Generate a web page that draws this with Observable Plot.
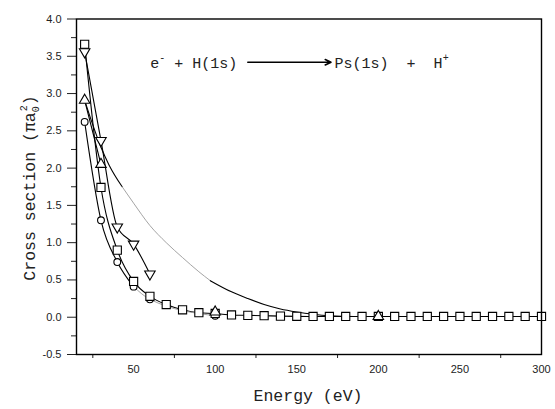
<!DOCTYPE html>
<html><head><meta charset="utf-8">
<script src="https://cdn.jsdelivr.net/npm/d3@7"></script>
<script src="https://cdn.jsdelivr.net/npm/@observablehq/plot@0.6"></script>
<style>html,body{margin:0;padding:0;background:#fff}svg{display:block}</style>
</head><body><div id="chart"></div>
<script>
// ---- data ----
const squareE = [20,30,40,50,60,70,80,90,100,110,120,130,140,150,160,170,180,190,200,210,220,230,240,250,260,270,280,290,300];
const squareS = [3.66,1.74,0.90,0.48,0.28,0.17,0.10,0.06,0.05,0.03,0.025,0.02,0.015,0.012,0.01,0.01,0.01,0.01,0.01,0.01,0.01,0.01,0.01,0.01,0.01,0.01,0.01,0.01,0.01];
const circleE = [20,30,40,50,60,100];
const circleS = [2.62,1.30,0.74,0.41,0.24,0.02];
const triUpE = [20,30,100,200];
const triUpS = [2.91,2.05,0.07,0.01];
const triDownE = [20,30,40,50,60];
const triDownS = [3.56,2.37,1.21,0.98,0.58];
const theoryE = [20,25,30,35,43,50,60,70,80,90,97,110,120,130,140,150,160,170,185,200];
const theoryS = [2.91,2.58,2.28,2.04,1.75,1.53,1.23,1.00,0.80,0.61,0.49,0.34,0.25,0.17,0.11,0.07,0.04,0.02,0.01,0.01];
const xTicks = [50,100,150,200,250,300];
const xMinor = [25,75,125,175,225,275];
const yTicks = [-0.5,0,0.5,1,1.5,2,2.5,3,3.5,4];
const yMinor = [-0.25,0.25,0.75,1.25,1.75,2.25,2.75,3.25,3.75];
const arrowFrom = [120, 3.42];
const arrowTo = [171, 3.42];
const leftText = {e: 60.5, s: 3.33};
const rightText = {e: 173.5, s: 3.33};

// ---- helpers ----
const rows = (E, S) => E.map((e, i) => ({e, s: S[i]}));
const slice = (E, S, a, b) => rows(E.slice(a, b + 1), S.slice(a, b + 1));
const mono = "'Courier New',Courier,'Nimbus Mono PS','FreeMono','Liberation Mono',monospace";
const triangleDown = {
  draw(ctx, size) {
    const y = Math.sqrt(size / (Math.sqrt(3) * 3));
    ctx.moveTo(0, 2 * y);
    ctx.lineTo(Math.sqrt(3) * y, -y);
    ctx.lineTo(-Math.sqrt(3) * y, -y);
    ctx.closePath();
  }
};
const black = {x: "e", y: "s", stroke: "#000", strokeWidth: 1.1, curve: "monotone-x"};
const gray = {x: "e", y: "s", stroke: "#9a9a9a", strokeWidth: 0.9, curve: "monotone-x"};
const dotStyle = {x: "e", y: "s", fill: "#fff", stroke: "#000", strokeWidth: 1.1};

const plot = Plot.plot({
  width: 555, height: 409,
  marginLeft: 76, marginRight: 14, marginTop: 18.5, marginBottom: 55,
  x: {domain: [15, 300]},
  y: {domain: [-0.5, 4]},
  style: {fontFamily: "'Liberation Sans',Arial,sans-serif", fontSize: "11px", color: "#222", background: "#fff"},
  marks: [
    Plot.axisY({ticks: yTicks, tickFormat: d => d.toFixed(1), tickSize: 9, tickPadding: 6, label: null, fontSize: 11}),
    Plot.axisY({ticks: yMinor, tickFormat: () => "", tickSize: 5, label: null}),
    Plot.axisX({ticks: xTicks, tickFormat: d => String(d), tickSize: 0, tickPadding: 11, label: null, fontSize: 11}),
    Plot.axisX({ticks: xMinor, tickFormat: () => "", tickSize: 4, label: null}),
    // theory curve
    Plot.line(slice(theoryE, theoryS, 0, 4), black),
    Plot.line(slice(theoryE, theoryS, 4, 10), gray),
    Plot.line(slice(theoryE, theoryS, 10, theoryE.length - 1), black),
    // connected series
    Plot.line(rows(squareE, squareS), black),
    Plot.line(slice(circleE, circleS, 0, 3), black),
    Plot.line(slice(circleE, circleS, 3, circleE.length - 1), gray),
    Plot.line(slice(triUpE, triUpS, 0, 1), black),
    Plot.line(rows(triDownE, triDownS), black),
    // markers
    Plot.dot(rows(circleE, circleS), {...dotStyle, symbol: "circle", r: 3.4}),
    Plot.dot(rows(squareE, squareS), {...dotStyle, symbol: "square", r: 4.6}),
    Plot.dot(rows(triUpE, triUpS), {...dotStyle, symbol: "triangle", r: 3.9}),
    Plot.dot(rows(triDownE, triDownS), {...dotStyle, symbol: triangleDown, r: 3.9}),
    // reaction arrow
    Plot.arrow([{x1: arrowFrom[0], y1: arrowFrom[1], x2: arrowTo[0], y2: arrowTo[1]}],
      {x1: "x1", y1: "y1", x2: "x2", y2: "y2", stroke: "#000", strokeWidth: 1.6, headLength: 6, headAngle: 50}),
    Plot.frame({stroke: "#000", strokeWidth: 1.4})
  ]
});

document.getElementById("chart").appendChild(plot);
const svg = d3.select(plot);
const xs = plot.scale("x"), ys = plot.scale("y");

// reaction text
function reaction(x, y, parts) {
  const t = svg.append("text").attr("x", x).attr("y", y).attr("text-anchor", "start")
    .attr("font-family", mono).attr("font-size", 15).attr("fill", "#222")
    .style("white-space", "pre");
  for (const [str, kind] of parts) {
    const sp = t.append("tspan").text(str);
    if (kind === "sup") sp.attr("font-size", 10).attr("dy", -7);
    if (kind === "back") sp.attr("dy", 7);
  }
}
reaction(xs.apply(leftText.e), ys.apply(leftText.s), [["e"], ["-", "sup"], [" + H(1s)", "back"]]);
reaction(xs.apply(rightText.e), ys.apply(rightText.s), [["Ps(1s)  +  H"], ["+", "sup"]]);

// axis titles
svg.append("text").attr("x", 308).attr("y", 401).attr("text-anchor", "middle")
  .attr("font-family", mono).attr("font-size", 16.5).attr("fill", "#222").text("Energy (eV)");
const yt = svg.append("text").attr("transform", "translate(35,188) rotate(-90)").attr("text-anchor", "middle")
  .attr("font-family", mono).attr("font-size", 16.5).attr("fill", "#222").style("white-space", "pre");
yt.append("tspan").text("Cross section (\u03c0a");
yt.append("tspan").text("0").attr("font-size", 10).attr("dy", 4);
yt.append("tspan").text("2").attr("font-size", 10).attr("dy", -12).attr("dx", -5);
yt.append("tspan").text(")").attr("dy", 8);
</script>
</body></html>
